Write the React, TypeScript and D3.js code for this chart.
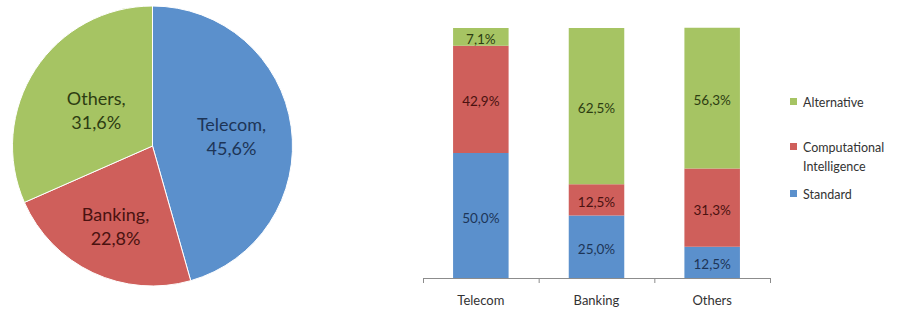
import React, { useEffect, useRef } from 'react';
import * as d3 from 'd3';

const pieNames = ['Telecom', 'Banking', 'Others'];
const pieValues = [45.6, 22.8, 31.6];

const barCategories = ['Telecom', 'Banking', 'Others'];
const seriesNames = ['Standard', 'Computational Intelligence', 'Alternative'];
const standard = [50.0, 25.0, 12.5];
const computational = [42.9, 12.5, 31.3];
const alternative = [7.1, 62.5, 56.3];

const fills = ['#5b90cc', '#cf5f5b', '#a6c463'];
const textFills = ['#1d3557', '#4a1210', '#2d3d12'];
const FONT = 'Lato, "Open Sans", sans-serif';
// how far out each pie label sits, as a share of the radius
const labelRadius = [0.57, 0.62, 0.48];

const fmt = (v: number) => v.toFixed(1).replace('.', ',') + '%';

const App: React.FC = () => {
  const ref = useRef<SVGSVGElement>(null);

  useEffect(() => {
    if (!ref.current) return;
    const svg = d3.select(ref.current);
    svg.selectAll('*').remove();

    // pie
    const cx = 152.5, cy = 146, r = 140;
    const pieG = svg.append('g').attr('transform', `translate(${cx},${cy})`);
    const pie = d3.pie<number>().sort(null).value(d => d);
    const arcs = pie(pieValues);
    const arc = d3.arc<d3.PieArcDatum<number>>().innerRadius(0).outerRadius(r);
    pieG.selectAll('path')
      .data(arcs)
      .join('path')
      .attr('d', arc)
      .attr('fill', (_, i) => fills[i])
      .attr('stroke', '#fff')
      .attr('stroke-width', 1);

    arcs.forEach((a, i) => {
      const lr = r * labelRadius[i];
      const [x, y] = d3.arc<d3.PieArcDatum<number>>().innerRadius(lr).outerRadius(lr).centroid(a);
      const t = pieG.append('text')
        .attr('x', x)
        .attr('y', y)
        .attr('text-anchor', 'middle')
        .attr('font-family', FONT)
        .attr('font-size', 18)
        .attr('fill', textFills[i]);
      t.append('tspan').attr('x', x).attr('dy', -4).text(pieNames[i] + ',');
      t.append('tspan').attr('x', x).attr('dy', 24).text(fmt(pieValues[i]));
    });

    // stacked bars
    const left = 423, right = 770, top = 28, bottom = 278;
    const x = d3.scaleBand().domain(barCategories).range([left, right]).paddingInner(0.52).paddingOuter(0.26);
    const y = d3.scaleLinear().domain([0, 100]).range([bottom, top]);
    const rows = barCategories.map((c, i) => ({ cat: c, s0: standard[i], s1: computational[i], s2: alternative[i] }));
    const stack = d3.stack<any>().keys(['s0', 's1', 's2']);
    const layers = stack(rows);

    const g = svg.append('g');
    layers.forEach((layer, li) => {
      layer.forEach((d, di) => {
        const cat = barCategories[di];
        const y0 = y(d[0]);
        const y1 = y(d[1]);
        g.append('rect')
          .attr('x', x(cat)!)
          .attr('y', y1)
          .attr('width', x.bandwidth())
          .attr('height', y0 - y1)
          .attr('fill', fills[li]);
        g.append('text')
          .attr('x', x(cat)! + x.bandwidth() / 2)
          .attr('y', (y0 + y1) / 2 + 2)
          .attr('dominant-baseline', 'central')
          .attr('text-anchor', 'middle')
          .attr('font-family', FONT)
          .attr('font-size', 13.5)
          .attr('fill', textFills[li])
          .text(fmt(d[1] - d[0]));
      });
    });

    // axis
    const axisG = svg.append('g');
    axisG.append('line')
      .attr('x1', left).attr('x2', right)
      .attr('y1', bottom + 0.5).attr('y2', bottom + 0.5)
      .attr('stroke', '#8c8c8c');
    const tickXs = d3.range(barCategories.length + 1).map(i => left + i * (right - left) / barCategories.length);
    axisG.selectAll('line.tick')
      .data(tickXs)
      .join('line')
      .attr('class', 'tick')
      .attr('x1', d => d + 0.5).attr('x2', d => d + 0.5)
      .attr('y1', bottom).attr('y2', bottom + 5)
      .attr('stroke', '#8c8c8c');
    axisG.selectAll('text')
      .data(barCategories)
      .join('text')
      .attr('x', d => x(d)! + x.bandwidth() / 2)
      .attr('y', 300)
      .attr('dominant-baseline', 'central')
      .attr('text-anchor', 'middle')
      .attr('font-family', FONT)
      .attr('font-size', 13)
      .attr('fill', '#333')
      .text(d => d);

    // legend
    const legend = [
      { name: seriesNames[2], lines: ['Alternative'], y: 102, c: fills[2] },
      { name: seriesNames[1], lines: ['Computational', 'Intelligence'], y: 147, c: fills[1] },
      { name: seriesNames[0], lines: ['Standard'], y: 194, c: fills[0] },
    ];
    const lg = svg.append('g');
    legend.forEach(l => {
      lg.append('rect')
        .attr('x', 790).attr('y', l.y - 4)
        .attr('width', 7).attr('height', 7)
        .attr('fill', l.c);
      l.lines.forEach((line, k) => {
        lg.append('text')
          .attr('x', 803)
          .attr('y', l.y + k * 19)
          .attr('dominant-baseline', 'central')
          .attr('font-family', FONT)
          .attr('font-size', 12.5)
          .attr('fill', '#333')
          .text(line);
      });
    });
  }, []);

  return (
    <svg
      ref={ref}
      width={902}
      height={314}
      style={{ position: 'absolute', left: 0, top: 0, background: '#fff' }}
    ></svg>
  );
};

export default App;
